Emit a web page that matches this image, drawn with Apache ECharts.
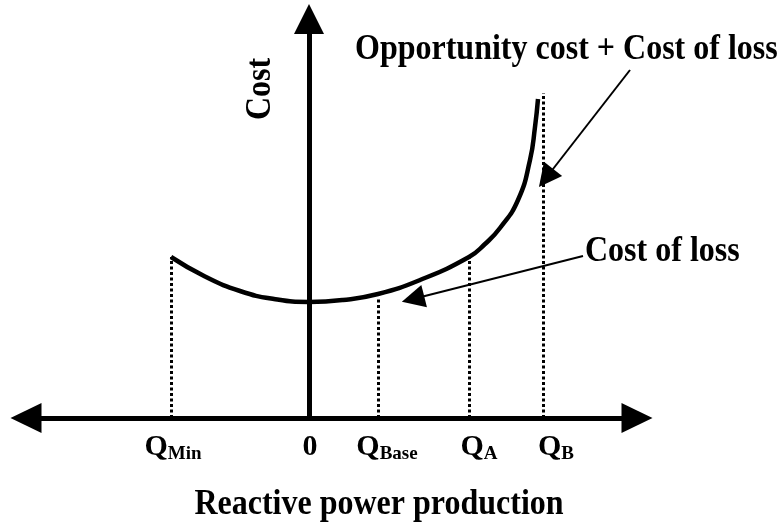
<!DOCTYPE html>
<html>
<head>
<meta charset="utf-8">
<script src="https://cdn.jsdelivr.net/npm/echarts@6/dist/echarts.min.js"></script>
<style>
  html, body { margin: 0; padding: 0; background: #fff; }
  #chart { width: 777px; height: 527px; }
</style>
</head>
<body>
<div id="chart"></div>
<script>
// reactive power positions (arbitrary units, 0 = origin)
var qNames = ['Q|Min', '0', 'Q|Base', 'Q|A', 'Q|B'];
var qValues = [-13.8, 0, 6.9, 16.0, 23.4];
var qLabelPos = [-13.6, 0.1, 7.8, 17.0, 24.7];
var qLineTop = [16.1, 0, 11.9, 16.1, 32.5];

// cost curve (opportunity cost + cost of loss)
var curveX = [-13.8, -10.4, -6.9, -3.5, 0, 3.4, 6.9, 11.1, 16.0, 17.6, 19.1, 20.9, 22.1, 22.6, 22.9];
var curveY = [16.1, 14.15, 12.7, 11.9, 11.6, 11.8, 12.4, 13.8, 16.1, 17.4, 19.0, 21.8, 25.8, 29.1, 31.9];

// annotation arrows: [start, end]
var arrowOpp = [[32.1, 34.8], [23.7, 24.0]];
var arrowLoss = [[27.4, 16.2], [10.4, 11.9]];

var chart = echarts.init(document.getElementById('chart'));
var serif = '"Liberation Serif", "Times New Roman", serif';

var curveData = curveX.map(function (x, i) { return [x, curveY[i]]; });

var dottedLines = [];
qValues.forEach(function (v, i) {
  if (qLineTop[i] > 0) {
    dottedLines.push([{ coord: [v, 0] }, { coord: [v, qLineTop[i]] }]);
  }
});

// big bold caption, a bit taller like the original figure
function caption(text, x, y, align, rot) {
  return {
    type: 'text', x: x, y: y, rotation: rot || 0, scaleY: 1.12,
    style: { text: text, font: 'bold 32px ' + serif, fill: '#000', align: align, verticalAlign: 'middle' }
  };
}

chart.setOption({
  animation: false,
  grid: { left: 26, right: 140, top: 19, bottom: 109 },
  xAxis: {
    type: 'value',
    min: -28.3,
    max: 32.8,
    splitLine: { show: false },
    axisTick: { show: false },
    axisLine: {
      onZero: true,
      symbol: ['triangle', 'triangle'],
      symbolSize: [30, 31],
      lineStyle: { color: '#000', width: 5 }
    },
    axisLabel: {
      customValues: qLabelPos,
      margin: 16,
      formatter: function (val) {
        var best = 0;
        qLabelPos.forEach(function (p, i) {
          if (Math.abs(p - val) < Math.abs(qLabelPos[best] - val)) best = i;
        });
        var parts = qNames[best].split('|');
        return parts.length > 1 ? '{q|' + parts[0] + '}{s|' + parts[1] + '}' : '{q|' + parts[0] + '}';
      },
      rich: {
        q: { fontSize: 30, fontWeight: 'bold', fontFamily: serif, color: '#000', lineHeight: 30, padding: [0, 0, 4, 0] },
        s: { fontSize: 19, fontWeight: 'bold', fontFamily: serif, color: '#000', lineHeight: 19, verticalAlign: 'bottom' }
      }
    }
  },
  yAxis: {
    type: 'value',
    min: 0,
    max: 39.9,
    splitLine: { show: false },
    axisTick: { show: false },
    axisLabel: { show: false },
    axisLine: {
      show: true,
      onZero: true,
      symbol: ['none', 'triangle'],
      symbolSize: [30, 30],
      lineStyle: { color: '#000', width: 5 }
    }
  },
  series: [
    {
      type: 'line',
      data: [],
      markLine: {
        silent: true,
        symbol: 'none',
        label: { show: false },
        lineStyle: { color: '#000', width: 3, type: [3, 2.5] },
        data: dottedLines
      }
    },
    {
      type: 'line',
      data: curveData,
      smooth: true,
      showSymbol: false,
      lineStyle: { color: '#000', width: 4.5 },
      z: 3
    },
    {
      type: 'line',
      data: [],
      markLine: {
        silent: true,
        symbol: ['none', 'triangle'],
        symbolSize: 23,
        label: { show: false },
        lineStyle: { color: '#000', width: 2, type: 'solid' },
        itemStyle: { color: '#000' },
        data: [
          [{ coord: arrowOpp[0] }, { coord: arrowOpp[1] }],
          [{ coord: arrowLoss[0] }, { coord: arrowLoss[1] }]
        ]
      }
    }
  ],
  graphic: [
    caption('Opportunity cost + Cost of loss', 355, 50, 'left'),
    caption('Cost of loss', 585, 252, 'left'),
    caption('Reactive power production', 379, 505, 'center'),
    caption('Cost', 261, 89, 'center', Math.PI / 2)
  ]
});
</script>
</body>
</html>
